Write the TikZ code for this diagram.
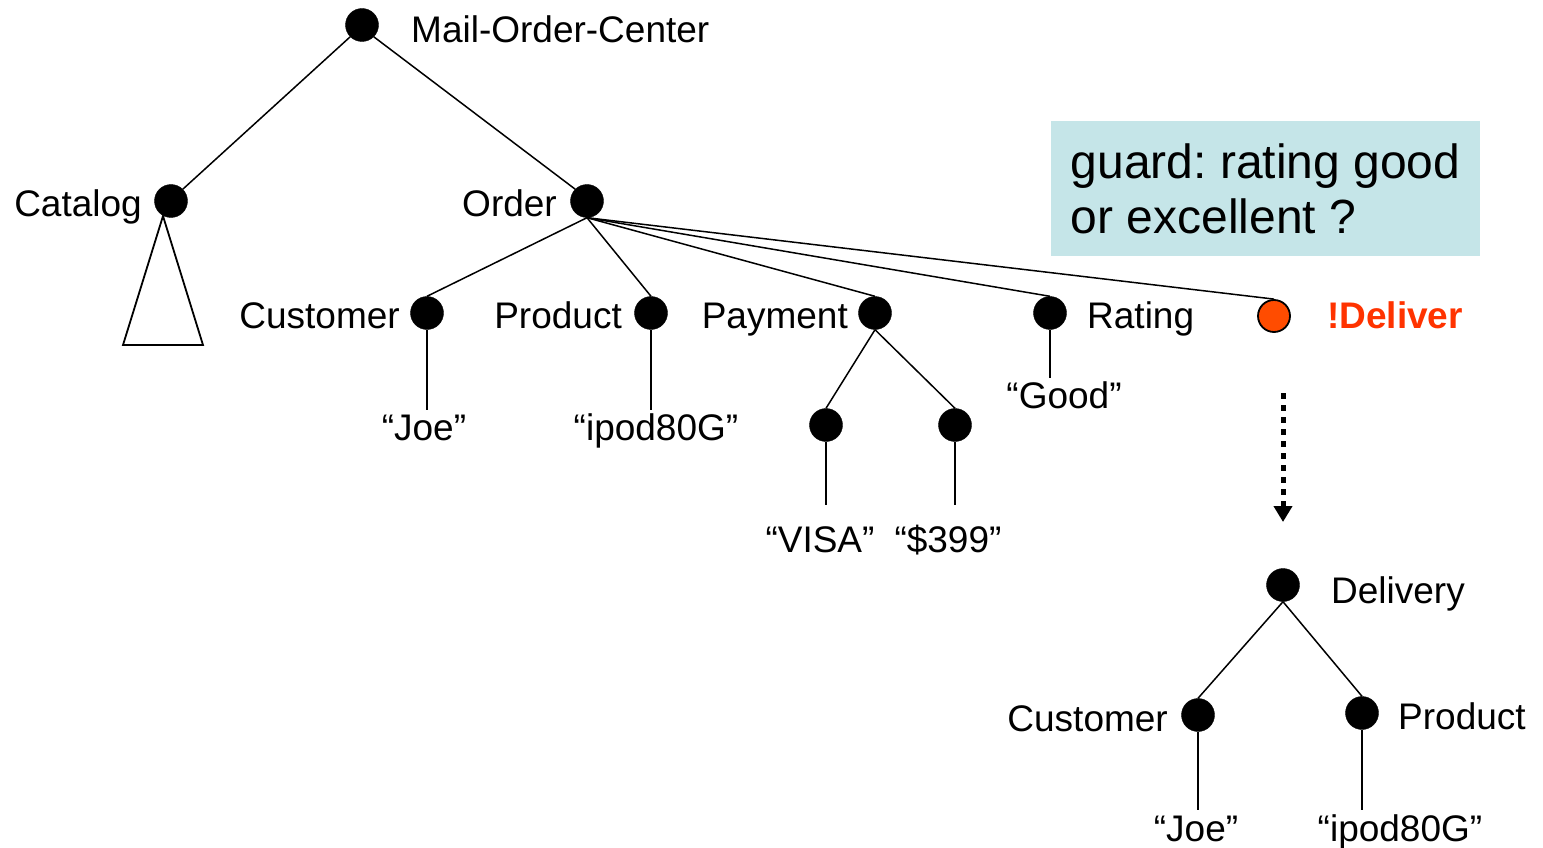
\documentclass[tikz,border=0pt]{standalone}
\usepackage{fontspec}
\setmainfont{Liberation Sans}
\usetikzlibrary{arrows.meta}
\definecolor{dorange}{RGB}{255,76,0}
\definecolor{dred}{RGB}{255,51,0}
\definecolor{guardbg}{RGB}{197,229,232}
\tikzset{
  dot/.style={circle,fill=black,draw=black,inner sep=0pt,minimum size=33pt},
  odot/.style={circle,fill=dorange,draw=black,line width=1.8pt,inner sep=0pt,minimum size=32pt},
  lbl/.style={inner sep=0pt,font=\fontsize{37}{44}\selectfont},
  edge/.style={line width=1.5pt},
  guardbox/.style={fill=guardbg,inner xsep=19pt,inner ysep=0pt,minimum width=429pt,minimum height=135pt,align=left,font=\fontsize{48}{55}\selectfont\frenchspacing}
}
\begin{document}
\begin{tikzpicture}[x=1pt,y=-1pt]
\useasboundingbox (0,0) rectangle (1543,848);
% dots
\node[dot] (root) at (362,25) {};
\node[dot] (catalog) at (171,201) {};
\node[dot] (order) at (587,201) {};
\node[dot] (cust) at (427,313) {};
\node[dot] (prod) at (651,313) {};
\node[dot] (pay) at (875,313) {};
\node[dot] (rating) at (1050,313) {};
\node[odot] (deliver) at (1274,316) {};
\node[dot] (visa) at (826,425) {};
\node[dot] (price) at (955,425) {};
\node[dot] (delivery) at (1283,585) {};
\node[dot] (cust2) at (1198,715) {};
\node[dot] (prod2) at (1362,713) {};
% leaf ends
\coordinate (joeEnd) at (427,410);
\coordinate (ipodEnd) at (651,410);
\coordinate (visaEnd) at (826,505);
\coordinate (priceEnd) at (955,505);
\coordinate (goodEnd) at (1050,378);
\coordinate (joe2End) at (1198,810);
\coordinate (ipod2End) at (1362,810);
% triangle
\coordinate (triTop) at (163,216);
\coordinate (triL) at (123,345);
\coordinate (triR) at (203,345);
\draw[line width=1.8pt,line join=miter] (triTop) -- (triL) -- (triR) -- cycle;
% edges
\draw[edge] (root.south west) -- (catalog.north east);
\draw[edge] (root.south east) -- (order.north west);
\draw[edge] (order.south) -- (cust.north);
\draw[edge] (order.south) -- (prod.north);
\draw[edge] (order.south) -- (pay.north);
\draw[edge] (order.south) -- (rating.north);
\draw[edge] (order.south) -- (deliver.north);
\draw[edge] (pay.south) -- (visa.north);
\draw[edge] (pay.south) -- (price.north);
\draw[edge] (cust.south) -- (joeEnd);
\draw[edge] (prod.south) -- (ipodEnd);
\draw[edge] (visa.south) -- (visaEnd);
\draw[edge] (price.south) -- (priceEnd);
\draw[edge] (rating.south) -- (goodEnd);
\draw[edge] (delivery.south) -- (cust2.north);
\draw[edge] (delivery.south) -- (prod2.north);
\draw[edge] (cust2.south) -- (joe2End);
\draw[edge] (prod2.south) -- (ipod2End);
% labels
\node[lbl,anchor=base west] (lroot) at (411,43) {Mail-Order-Center};
\node[lbl,anchor=base east] (lcat) at (142,216) {Catalog};
\node[lbl,anchor=base east] (lorder) at (557,216) {Order};
\node[lbl,anchor=base east] (lcust) at (400,328) {Customer};
\node[lbl,anchor=base east] (lprod) at (622,328) {Product};
\node[lbl,anchor=base east] (lpay) at (848,328) {Payment};
\node[lbl,anchor=base west] (lrating) at (1087,328) {Rating};
\node[lbl,anchor=base west,text=dred,font=\fontsize{37}{44}\selectfont\bfseries] (ldeliver) at (1327,328) {!Deliver};
\node[lbl,anchor=base] (ljoe) at (424,440) {“Joe”};
\node[lbl,anchor=base] (lipod) at (656,440) {“ipod80G”};
\node[lbl,anchor=base] (lgood) at (1064,408) {“Good”};
\node[lbl,anchor=base] (lvisa) at (820,552) {“VISA”};
\node[lbl,anchor=base] (lprice) at (948,552) {“\$399”};
\node[lbl,anchor=base west] (ldelivery) at (1331,603) {Delivery};
\node[lbl,anchor=base east] (lcust2) at (1168,731) {Customer};
\node[lbl,anchor=base west] (lprod2) at (1398,729) {Product};
\node[lbl,anchor=base] (ljoe2) at (1196,841) {“Joe”};
\node[lbl,anchor=base] (lipod2) at (1400,841) {“ipod80G”};
% guard
\node[guardbox] (guard) at (1265.5,188.5) {guard: rating good\\or excellent ?};
% dotted arrow
\coordinate (arrS) at (1283,393);
\coordinate (arrE) at (1283,522);
\draw[line width=5pt,dash pattern=on 6pt off 6pt,-{Triangle[width=18pt,length=16pt]}] (arrS) -- (arrE);
\end{tikzpicture}
\end{document}
